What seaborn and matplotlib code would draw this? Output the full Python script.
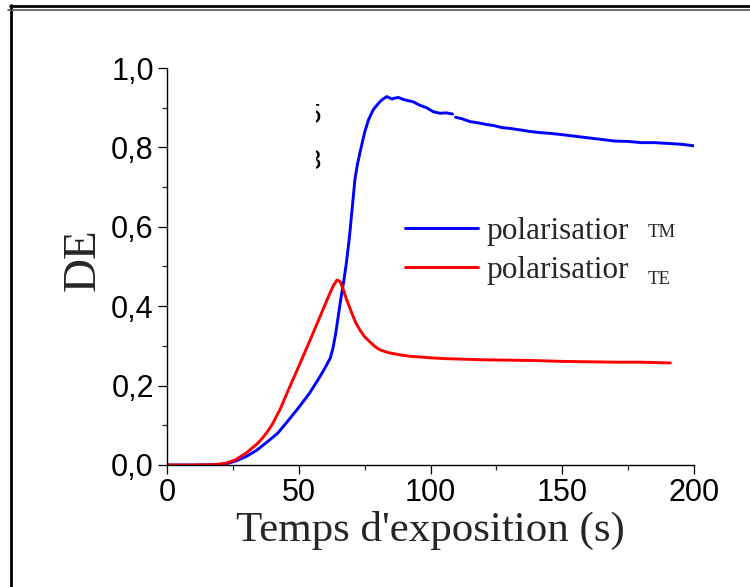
import numpy as np
import pandas as pd
import matplotlib
matplotlib.use("Agg")
import matplotlib.pyplot as plt
import seaborn as sns
from matplotlib.lines import Line2D
from matplotlib.ticker import MultipleLocator, FuncFormatter
from matplotlib.transforms import Bbox, TransformedBbox

# ---------------- data ----------------
tm_x_a = [0, 10, 20, 23, 26, 30, 34, 38, 42, 46, 50, 54, 58, 60, 62, 63, 64, 65,
          66, 67, 68, 69, 69.5, 70.4, 71.3, 72.2, 73.2, 74.2, 75.1, 76.5, 78.2,
          79.5, 80.8, 82, 83.4, 85.3, 87.7, 90, 93.4, 96, 98.5, 101, 103.6, 106, 108.4]
tm_y_a = [0, 0, 0.001, 0.004, 0.01, 0.021, 0.037, 0.058, 0.08, 0.112, 0.145, 0.18,
          0.222, 0.245, 0.27, 0.295, 0.33, 0.375, 0.42, 0.46, 0.505, 0.56, 0.592,
          0.655, 0.718, 0.755, 0.786, 0.815, 0.84, 0.87, 0.894, 0.905, 0.915, 0.922,
          0.928, 0.922, 0.926, 0.92, 0.915, 0.906, 0.9, 0.89, 0.886, 0.887, 0.884]
tm_x_b = [109.5, 112, 115, 118.8, 121, 124, 127, 130, 134, 138, 142, 146, 150, 155,
          160, 165, 170, 175, 180, 185, 190, 195, 200]
tm_y_b = [0.876, 0.872, 0.865, 0.861, 0.858, 0.855, 0.85, 0.848, 0.844, 0.84, 0.837,
          0.835, 0.832, 0.828, 0.824, 0.82, 0.816, 0.815, 0.812, 0.812, 0.81, 0.808, 0.804]

te_x = [0, 10, 18, 22, 26, 30, 34, 36, 38, 40, 42.9, 46, 50.5, 54, 58.1, 61, 63,
        64.5, 65.7, 67, 68.2, 70, 71.5, 73.2, 75, 77, 79, 80.8, 84, 88, 92, 96, 100,
        105, 110, 120, 130, 140, 150, 160, 170, 180, 186, 191]
te_y = [0, 0, 0.001, 0.004, 0.013, 0.03, 0.052, 0.066, 0.083, 0.103, 0.14, 0.188,
        0.256, 0.31, 0.374, 0.42, 0.45, 0.466, 0.462, 0.44, 0.416, 0.385, 0.36, 0.34,
        0.323, 0.31, 0.298, 0.29, 0.283, 0.278, 0.274, 0.272, 0.27, 0.268, 0.267,
        0.265, 0.264, 0.263, 0.261, 0.26, 0.259, 0.259, 0.258, 0.257]

series_labels = ["polarisatior", "polarisatior"]
series_tags = ["TM", "TE"]
x_ticks = [0, 50, 100, 150, 200]
y_ticks = [0.0, 0.2, 0.4, 0.6, 0.8, 1.0]
fragments = ["5", "8"]

df = pd.concat([
    pd.DataFrame({"t": tm_x_a, "DE": tm_y_a, "pol": "TM", "seg": "TM1"}),
    pd.DataFrame({"t": tm_x_b, "DE": tm_y_b, "pol": "TM", "seg": "TM2"}),
    pd.DataFrame({"t": te_x, "DE": te_y, "pol": "TE", "seg": "TE1"}),
], ignore_index=True)

# ---------------- style ----------------
sns.set_theme(style="ticks")
plt.rcParams["font.family"] = ["Liberation Sans", "DejaVu Sans"]

W, H = 750, 587
fig = plt.figure(figsize=(7.5, 5.87), dpi=100)
ax = fig.add_axes([167/W, 1-465/H, (694-167)/W, (465-68)/H])

palette = {"TM": "#0000ff", "TE": "#ff0000"}
sns.lineplot(data=df, x="t", y="DE", hue="pol", units="seg", estimator=None,
             palette=palette, linewidth=2.1, ax=ax, legend=False, sort=False)

ax.set_xlim(0, 200)
ax.set_ylim(0, 1.0)
ax.set_xticks(x_ticks)
ax.set_yticks(y_ticks)
ax.xaxis.set_minor_locator(MultipleLocator(25))
ax.yaxis.set_minor_locator(MultipleLocator(0.1))
ax.yaxis.set_major_formatter(FuncFormatter(lambda v, p: f"{v:.1f}".replace(".", ",")))
ax.xaxis.set_major_formatter(FuncFormatter(lambda v, p: f"{int(round(v))}"))
ax.tick_params(which="major", direction="out", length=6.5, width=0.9,
               labelsize=22, pad=3, colors="black")
ax.tick_params(which="minor", direction="out", length=3.8, width=0.9)
for s in ["top", "right"]:
    ax.spines[s].set_visible(False)
for s in ["left", "bottom"]:
    ax.spines[s].set_linewidth(1.0)
    ax.spines[s].set_color("black")

serif = ["Liberation Serif", "DejaVu Serif"]
ax.set_xlabel("Temps d'exposition (s)", fontsize=31, family=serif)
ax.set_ylabel("DE", fontsize=34, family=serif)
ax.xaxis.set_label_coords(0.5, (465-511)/397)
ax.yaxis.set_label_coords((105-167)/527, (465-260)/397)

handles = [Line2D([], [], color=palette["TM"], lw=2.1),
           Line2D([], [], color=palette["TE"], lw=2.1)]
leg = ax.legend(handles, series_labels, loc="upper left",
                bbox_to_anchor=((405-167)/527, (465-217)/397),
                frameon=False, prop={"family": serif, "size": 22.5},
                handlelength=2.33, handletextpad=0.29, labelspacing=0.32,
                borderpad=0, borderaxespad=0)

fig.text(648/W, 1-236.7/H, series_tags[0], family=serif, fontsize=13.5,
         va="baseline", ha="left")
fig.text(648/W, 1-284/H, series_tags[1], family=serif, fontsize=13.5,
         va="baseline", ha="left")

# clipped glyph fragments visible in the original
clip = TransformedBbox(Bbox([[315.5/W, 0.5], [322/W, 1.0]]), fig.transFigure)
for txt, base in zip(fragments, [123, 169]):
    t = fig.text(306/W, 1-base/H, txt, fontsize=20, va="baseline", ha="left",
                 color="black")
    t.set_clip_box(clip)
    t.set_clip_on(True)

# outer frame
fig.add_artist(Line2D([11/W, 11/W], [0, 1-5/H], color="black", lw=2.0,
                      transform=fig.transFigure))
fig.add_artist(Line2D([10/W, 1], [1-5.5/H, 1-5.5/H], color="black", lw=2.0,
                      transform=fig.transFigure))
fig.add_artist(Line2D([8/W, 1], [1-10/H, 1-10/H], color="#555555", lw=1.2,
                      transform=fig.transFigure))

fig.savefig("out.png", dpi=100)
